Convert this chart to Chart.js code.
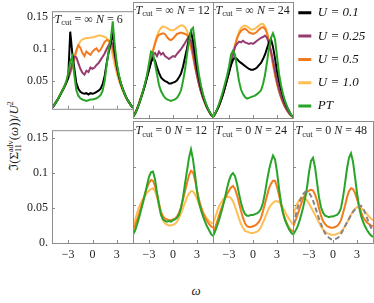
<!DOCTYPE html>
<html>
<head>
<meta charset="utf-8">
<title>Self-energy panels</title>
<script src="https://cdn.jsdelivr.net/npm/chart.js"></script>
<style>
  body { margin: 0; width: 374px; height: 303px; overflow: hidden; position: relative; background: #fff; font-family: "Liberation Serif", "DejaVu Serif", serif; color: #222; }
  canvas { position: absolute; }
  .ylab { position: absolute; left: 14px; top: 136px; transform: translate(-50%, -50%) rotate(-90deg); white-space: nowrap; font-size: 13px; }
  .ylab .ss { display: inline-block; vertical-align: middle; font-size: 8px; line-height: 8px; text-align: left; }
  .ylab .ss span { display: block; }
  .ylab sup { font-size: 8px; }
  .xlab { position: absolute; left: 196px; top: 291px; transform: translate(-50%, -50%); font-style: italic; font-size: 13px; }
</style>
</head>
<body>
<div class="ylab">&#8465;(&Sigma;<span class="ss"><span>adv</span><span>11</span></span>(<i>&omega;</i>))/<i>U</i><sup>2</sup></div>
<div class="xlab">&omega;</div>

<script>
// frequency grid shared by every curve
const omega = [-5, -4.75, -4.5, -4.25, -4, -3.75, -3.5, -3.25, -3, -2.75, -2.5, -2.25, -2, -1.75, -1.5, -1.25, -1, -0.75, -0.5, -0.25,
  0, 0.25, 0.5, 0.75, 1, 1.25, 1.5, 1.75, 2, 2.25, 2.5, 2.75, 3, 3.25, 3.5, 3.75, 4, 4.25, 4.5, 4.75, 5];
const xTicks = [-3, 0, 3];
const yTicks = [0, 0.05, 0.1, 0.15];
const legendLabels = ['U = 0.1', 'U = 0.25', 'U = 0.5', 'U = 1.0', 'PT'];

// T_cut = infinity, N = 6
const inf6U01  = [0.008,0.012,0.017,0.022,0.028,0.034,0.040,0.047,0.055, 0.127,0.094,0.070,0.047, 0.038,0.033,0.031,0.030, 0.031,0.029,0.031,0.030, 0.031,0.033,0.035,0.038, 0.045,0.058,0.078,0.095, 0.108,0.128,0.095,0.074, 0.058,0.046,0.037,0.029, 0.022,0.017,0.012,0.008];
const inf6U025 = [0.008,0.012,0.017,0.022,0.028,0.034,0.040,0.047,0.055, 0.064,0.078,0.088,0.087, 0.078,0.069,0.063,0.060, 0.066,0.064,0.071,0.069, 0.071,0.075,0.078,0.083, 0.088,0.093,0.100,0.106, 0.112,0.108,0.090,0.072, 0.057,0.046,0.037,0.029, 0.022,0.017,0.012,0.008];
const inf6U05  = [0.008,0.012,0.017,0.022,0.028,0.034,0.040,0.047,0.055, 0.063,0.074,0.086,0.098, 0.106,0.102,0.094,0.089, 0.096,0.093,0.091,0.096, 0.099,0.101,0.096,0.099, 0.105,0.111,0.114,0.113, 0.110,0.100,0.085,0.068, 0.055,0.045,0.036,0.029, 0.022,0.017,0.012,0.008];
const inf6U10  = [0.009,0.013,0.018,0.023,0.029,0.035,0.041,0.048,0.055, 0.063,0.072,0.083,0.095, 0.106,0.112,0.115,0.116, 0.117,0.117,0.118,0.118, 0.119,0.120,0.121,0.121, 0.120,0.119,0.117,0.113, 0.104,0.090,0.075,0.062, 0.051,0.042,0.034,0.027, 0.021,0.016,0.012,0.009];
const inf6PT   = [0.008,0.012,0.017,0.022,0.028,0.034,0.041,0.049,0.062, 0.080,0.088,0.060,0.036, 0.027,0.023,0.021,0.020, 0.019,0.020,0.021,0.021, 0.022,0.023,0.025,0.028, 0.035,0.050,0.075,0.098, 0.115,0.143,0.105,0.078, 0.060,0.047,0.037,0.029, 0.022,0.017,0.012,0.008];

// T_cut = infinity, N = 12
const inf12U01  = [0.008,0.012,0.018,0.025,0.033,0.041,0.050,0.060,0.070, 0.080,0.085,0.082,0.073, 0.066,0.060,0.057,0.055, 0.054,0.052,0.052,0.053, 0.054,0.056,0.060,0.065, 0.074,0.086,0.098,0.112, 0.120,0.108,0.090,0.072, 0.058,0.046,0.036,0.028, 0.021,0.016,0.011,0.008];
const inf12U025 = [0.008,0.012,0.018,0.025,0.033,0.041,0.050,0.060,0.070, 0.080,0.090,0.092,0.088, 0.094,0.090,0.092,0.088, 0.086,0.084,0.086,0.088, 0.087,0.091,0.094,0.097, 0.101,0.105,0.110,0.113, 0.108,0.094,0.078,0.063, 0.051,0.041,0.033,0.026, 0.020,0.015,0.011,0.008];
const inf12U05  = [0.008,0.013,0.019,0.026,0.034,0.042,0.051,0.061,0.072, 0.083,0.095,0.104,0.112, 0.116,0.117,0.118,0.117, 0.113,0.110,0.109,0.111, 0.114,0.117,0.118,0.119, 0.118,0.117,0.116,0.110, 0.100,0.088,0.074,0.062, 0.051,0.041,0.033,0.026, 0.020,0.015,0.011,0.008];
const inf12U10  = [0.008,0.013,0.019,0.026,0.034,0.042,0.051,0.061,0.072, 0.083,0.095,0.106,0.115, 0.121,0.125,0.127,0.126, 0.125,0.123,0.122,0.122, 0.123,0.125,0.127,0.128, 0.128,0.126,0.121,0.112, 0.100,0.087,0.074,0.062, 0.051,0.041,0.033,0.026, 0.020,0.015,0.011,0.008];
const inf12PT   = [0.008,0.012,0.018,0.025,0.033,0.042,0.052,0.063,0.078, 0.094,0.092,0.078,0.064, 0.050,0.042,0.037,0.033, 0.031,0.030,0.029,0.030, 0.031,0.033,0.037,0.043, 0.055,0.070,0.090,0.108, 0.122,0.125,0.105,0.082, 0.063,0.049,0.038,0.029, 0.022,0.016,0.012,0.008];

// T_cut = infinity, N = 24
const inf24U01  = [0.008,0.012,0.017,0.023,0.030,0.038,0.047,0.057,0.066, 0.076,0.083,0.086,0.084, 0.081,0.079,0.077,0.075, 0.073,0.071,0.070,0.070, 0.071,0.073,0.076,0.079, 0.084,0.090,0.098,0.106, 0.110,0.100,0.085,0.068, 0.055,0.044,0.035,0.027, 0.021,0.016,0.011,0.008];
const inf24U025 = [0.008,0.012,0.017,0.023,0.030,0.038,0.047,0.057,0.068, 0.078,0.090,0.100,0.104, 0.107,0.106,0.108,0.106, 0.105,0.104,0.105,0.104, 0.106,0.108,0.110,0.112, 0.113,0.115,0.112,0.104, 0.094,0.082,0.068,0.055, 0.044,0.035,0.028,0.022, 0.017,0.013,0.010,0.008];
const inf24U05  = [0.008,0.012,0.017,0.023,0.030,0.038,0.047,0.057,0.068, 0.078,0.090,0.102,0.111, 0.117,0.121,0.123,0.124, 0.122,0.119,0.118,0.117, 0.118,0.120,0.123,0.125, 0.126,0.124,0.118,0.107, 0.093,0.078,0.064,0.052, 0.042,0.034,0.027,0.021, 0.017,0.013,0.010,0.008];
const inf24U10  = [0.008,0.012,0.017,0.023,0.030,0.038,0.047,0.057,0.068, 0.078,0.090,0.102,0.112, 0.120,0.125,0.127,0.128, 0.127,0.125,0.123,0.123, 0.124,0.126,0.128,0.130, 0.130,0.127,0.120,0.108, 0.092,0.076,0.063,0.051, 0.041,0.033,0.026,0.021, 0.017,0.013,0.010,0.008];
const inf24PT   = [0.008,0.012,0.018,0.025,0.033,0.042,0.052,0.062,0.074, 0.090,0.095,0.090,0.072, 0.055,0.044,0.038,0.034, 0.032,0.033,0.034,0.035, 0.036,0.038,0.040,0.043, 0.051,0.063,0.080,0.098, 0.112,0.118,0.110,0.088, 0.065,0.050,0.038,0.029, 0.022,0.016,0.011,0.008];

// T_cut = 0, N = 12
const zero12PT  = [0.011,0.016,0.024,0.033,0.043,0.053,0.064,0.076,0.087, 0.093,0.094,0.084,0.066, 0.050,0.037,0.031,0.029, 0.028,0.029,0.028,0.030, 0.031,0.033,0.037,0.046, 0.060,0.078,0.095,0.112, 0.123,0.110,0.090,0.068, 0.053,0.043,0.035,0.028, 0.022,0.017,0.012,0.009];
const zero12U05 = [0.017,0.023,0.030,0.038,0.047,0.056,0.065,0.073,0.079, 0.083,0.082,0.075,0.064, 0.052,0.041,0.035,0.032, 0.031,0.030,0.030,0.031, 0.032,0.035,0.040,0.047, 0.057,0.068,0.079,0.089, 0.095,0.093,0.083,0.069, 0.057,0.048,0.040,0.034, 0.029,0.025,0.022,0.020];
const zero12U10 = [0.022,0.030,0.039,0.047,0.053,0.058,0.062,0.066,0.069, 0.071,0.072,0.068,0.060, 0.050,0.038,0.030,0.026, 0.024,0.023,0.023,0.024, 0.025,0.028,0.033,0.039, 0.046,0.053,0.060,0.065, 0.068,0.068,0.064,0.058, 0.052,0.046,0.040,0.036, 0.032,0.029,0.027,0.025];

// T_cut = 0, N = 24
const zero24PT  = [0.009,0.015,0.022,0.030,0.039,0.049,0.060,0.072,0.082, 0.089,0.092,0.088,0.078, 0.065,0.053,0.044,0.038, 0.036,0.036,0.037,0.037, 0.038,0.039,0.041,0.045, 0.053,0.066,0.082,0.096, 0.107,0.115,0.110,0.094, 0.072,0.053,0.039,0.030, 0.024,0.018,0.014,0.011];
const zero24U05 = [0.013,0.020,0.028,0.036,0.044,0.051,0.058,0.064,0.069, 0.073,0.075,0.071,0.063, 0.053,0.042,0.033,0.026, 0.022,0.021,0.021,0.022, 0.023,0.025,0.028,0.033, 0.042,0.052,0.062,0.072, 0.078,0.082,0.082,0.074, 0.063,0.051,0.040,0.032, 0.025,0.020,0.017,0.015];
const zero24U10 = [0.026,0.033,0.041,0.048,0.053,0.057,0.060,0.061,0.061, 0.059,0.055,0.048,0.040, 0.032,0.025,0.020,0.016, 0.015,0.014,0.013,0.013, 0.014,0.015,0.017,0.021, 0.027,0.033,0.040,0.046, 0.050,0.053,0.055,0.055, 0.054,0.051,0.046,0.041, 0.036,0.032,0.028,0.024];

// T_cut = 0, N = 48
const zero48PT   = [0.011,0.015,0.020,0.027,0.036,0.046,0.058,0.073,0.093, 0.108,0.112,0.100,0.080, 0.060,0.047,0.040,0.036, 0.035,0.034,0.035,0.035, 0.036,0.037,0.040,0.046, 0.060,0.078,0.098,0.112, 0.118,0.107,0.087,0.066, 0.048,0.036,0.028,0.022, 0.017,0.013,0.010,0.008];
const zero48U05  = [0.021,0.028,0.035,0.043,0.051,0.058,0.063,0.067,0.069, 0.070,0.069,0.064,0.056, 0.046,0.036,0.029,0.025, 0.022,0.021,0.020,0.020, 0.021,0.022,0.025,0.030, 0.039,0.049,0.060,0.068, 0.072,0.071,0.066,0.058, 0.049,0.041,0.034,0.030, 0.027,0.025,0.023,0.022];
const zero48U10  = [0.036,0.044,0.051,0.056,0.059,0.060,0.059,0.056,0.052, 0.047,0.042,0.037,0.032, 0.027,0.022,0.018,0.015, 0.013,0.012,0.011,0.011, 0.011,0.012,0.013,0.015, 0.018,0.022,0.027,0.032, 0.037,0.042,0.045,0.047, 0.047,0.046,0.044,0.041, 0.038,0.035,0.032,0.030];
const zero48Grey = [0.024,0.033,0.043,0.052,0.059,0.064,0.067,0.068,0.066, 0.062,0.056,0.048,0.040, 0.032,0.025,0.018,0.013, 0.009,0.007,0.005,0.005, 0.005,0.006,0.008,0.012, 0.017,0.022,0.027,0.032, 0.037,0.041,0.044,0.046, 0.048,0.049,0.046,0.040, 0.033,0.026,0.020,0.016];

const BLACK = '#000000', PURPLE = '#963c6e', ORANGE = '#f47a1f', YELLOW = '#ffbe55', GREEN = '#28a528', GREY = '#858585';
const FRAME = '#8c8c8c', INK = '#222222';
const FONT = '"Liberation Serif", "DejaVu Serif", serif';
const ML = 52, MR = 2, MT = 2;

const panelDeco = {
  id: 'panelDeco',
  afterDatasetsDraw(chart, args, opts) {
    const { ctx, chartArea: a, scales } = chart;
    ctx.save();
    ctx.strokeStyle = FRAME;
    ctx.lineWidth = 1;
    ctx.beginPath();
    xTicks.forEach(v => {
      const px = Math.round(scales.x.getPixelForValue(v)) + 0.5;
      ctx.moveTo(px, a.bottom); ctx.lineTo(px, a.bottom - 3);
    });
    yTicks.forEach(v => {
      if (v < scales.y.min || v > scales.y.max) return;
      const py = Math.round(scales.y.getPixelForValue(v)) + 0.5;
      ctx.moveTo(a.left, py); ctx.lineTo(a.left + 3, py);
    });
    ctx.stroke();
    ctx.strokeRect(a.left + 0.5, a.top + 0.5, a.right - a.left, a.bottom - a.top);
    if (opts.title) {
      // T_cut = .. N = ..
      const parts = [
        ['T', 'italic 12px ' + FONT, 0],
        ['cut', '8.5px ' + FONT, 2.5],
        [' = ' + opts.title[0] + ' ', '12px ' + FONT, 0],
        ['N', 'italic 12px ' + FONT, 0],
        [' = ' + opts.title[1], '12px ' + FONT, 0]
      ];
      let x = a.left + 2.5;
      const y = a.top + opts.base;
      ctx.fillStyle = INK;
      ctx.textBaseline = 'alphabetic';
      parts.forEach(p => {
        ctx.font = p[1];
        ctx.fillText(p[0], x, y + p[2]);
        x += ctx.measureText(p[0]).width;
      });
    }
    ctx.restore();
  }
};

function makePanel(p) {
  const mb = p.xLabels ? 20 : 2;
  const w = ML + p.w + MR, h = MT + p.h + mb;
  const cv = document.createElement('canvas');
  cv.width = w; cv.height = h;
  cv.style.left = (p.x - ML) + 'px';
  cv.style.top = (p.y - MT) + 'px';
  document.body.appendChild(cv);
  new Chart(cv, {
    type: 'line',
    data: {
      datasets: p.series.map(s => ({
        data: omega.map((x, i) => ({ x: x, y: s.values[i] })),
        borderColor: s.color,
        borderWidth: 2,
        borderDash: s.dash || [],
        pointRadius: 0,
        tension: 0,
        order: s.order
      }))
    },
    options: {
      responsive: false,
      animation: false,
      devicePixelRatio: 1,
      events: [],
      layout: { padding: { top: MT, right: MR, left: 0, bottom: 0 } },
      plugins: {
        legend: { display: false },
        tooltip: { enabled: false },
        panelDeco: { title: p.title, base: p.base }
      },
      scales: {
        x: {
          type: 'linear', min: -5, max: 5,
          grid: { display: false, drawTicks: false },
          border: { display: false },
          afterBuildTicks: s => { s.ticks = xTicks.map(v => ({ value: v })); },
          afterFit: s => { s.height = mb; },
          ticks: {
            display: !!p.xLabels, autoSkip: false, maxRotation: 0, padding: 5, color: INK,
            font: { family: FONT, size: 12 },
            callback: v => (v < 0 ? '\u2212' + Math.abs(v) : String(v))
          }
        },
        y: {
          type: 'linear', min: p.ymin, max: p.ymax,
          grid: { display: false, drawTicks: false },
          border: { display: false },
          afterBuildTicks: s => { s.ticks = yTicks.filter(v => v >= p.ymin && v <= p.ymax).map(v => ({ value: v })); },
          afterFit: s => { s.width = ML; },
          ticks: {
            display: !!p.yLabels, autoSkip: false, padding: 4, color: INK,
            font: { family: FONT, size: 12 },
            callback: v => (v === 0 ? '0.' : String(v))
          }
        }
      }
    },
    plugins: [panelDeco]
  });
}

const topRow = { y: 2, h: 116, ymin: 0.0066, ymax: 0.159, base: 11.5 };
const botRow = { y: 121, h: 122, ymin: 0, ymax: 0.1605, base: 13 };
const colX = [52, 133, 213, 293];
const colW = [81, 80, 80, 80];

function infSeries(a, b, c, d, e) {
  return [
    { values: a, color: BLACK, order: 1 },
    { values: b, color: PURPLE, order: 2 },
    { values: c, color: ORANGE, order: 3 },
    { values: d, color: YELLOW, order: 4 },
    { values: e, color: GREEN, order: 0 }
  ];
}
function zeroSeries(g, o, y) {
  return [
    { values: g, color: GREEN, order: 1 },
    { values: o, color: ORANGE, order: 2 },
    { values: y, color: YELLOW, order: 3 }
  ];
}

makePanel(Object.assign({}, topRow, { x: colX[0], w: colW[0], yLabels: true, title: ['\u221e', '6'], series: infSeries(inf6U01, inf6U025, inf6U05, inf6U10, inf6PT) }));
makePanel(Object.assign({}, topRow, { x: colX[1], w: colW[1], title: ['\u221e', '12'], series: infSeries(inf12U01, inf12U025, inf12U05, inf12U10, inf12PT) }));
makePanel(Object.assign({}, topRow, { x: colX[2], w: colW[2], title: ['\u221e', '24'], series: infSeries(inf24U01, inf24U025, inf24U05, inf24U10, inf24PT) }));

makePanel(Object.assign({}, botRow, { x: colX[0], w: colW[0], yLabels: true, xLabels: true, series: [] }));
makePanel(Object.assign({}, botRow, { x: colX[1], w: colW[1], xLabels: true, title: ['0', '12'], series: zeroSeries(zero12PT, zero12U05, zero12U10) }));
makePanel(Object.assign({}, botRow, { x: colX[2], w: colW[2], xLabels: true, title: ['0', '24'], series: zeroSeries(zero24PT, zero24U05, zero24U10) }));
makePanel(Object.assign({}, botRow, { x: colX[3], w: colW[3], xLabels: true, title: ['0', '48'],
  series: zeroSeries(zero48PT, zero48U05, zero48U10).concat([{ values: zero48Grey, color: GREY, dash: [5, 3], order: 0 }]) }));

// legend block, top right (tall canvas: a top legend may use at most half the height)
const lg = document.createElement('canvas');
lg.width = 86; lg.height = 270;
lg.style.left = '288px'; lg.style.top = '-4px';
document.body.insertBefore(lg, document.body.firstChild);
const legendColors = [BLACK, PURPLE, ORANGE, YELLOW, GREEN];
new Chart(lg, {
  type: 'line',
  data: {
    datasets: legendLabels.map((l, i) => ({ label: l, data: [], borderColor: legendColors[i], backgroundColor: legendColors[i], borderWidth: 0 }))
  },
  options: {
    responsive: false,
    animation: false,
    devicePixelRatio: 1,
    events: [],
    layout: { padding: 0 },
    scales: { x: { display: false }, y: { display: false } },
    plugins: {
      tooltip: { enabled: false },
      legend: {
        position: 'top', align: 'start',
        labels: { boxWidth: 13, boxHeight: 3, padding: 10.3, color: '#111', font: { family: FONT, size: 13, style: 'italic' } }
      }
    }
  }
});
</script>
</body>
</html>
